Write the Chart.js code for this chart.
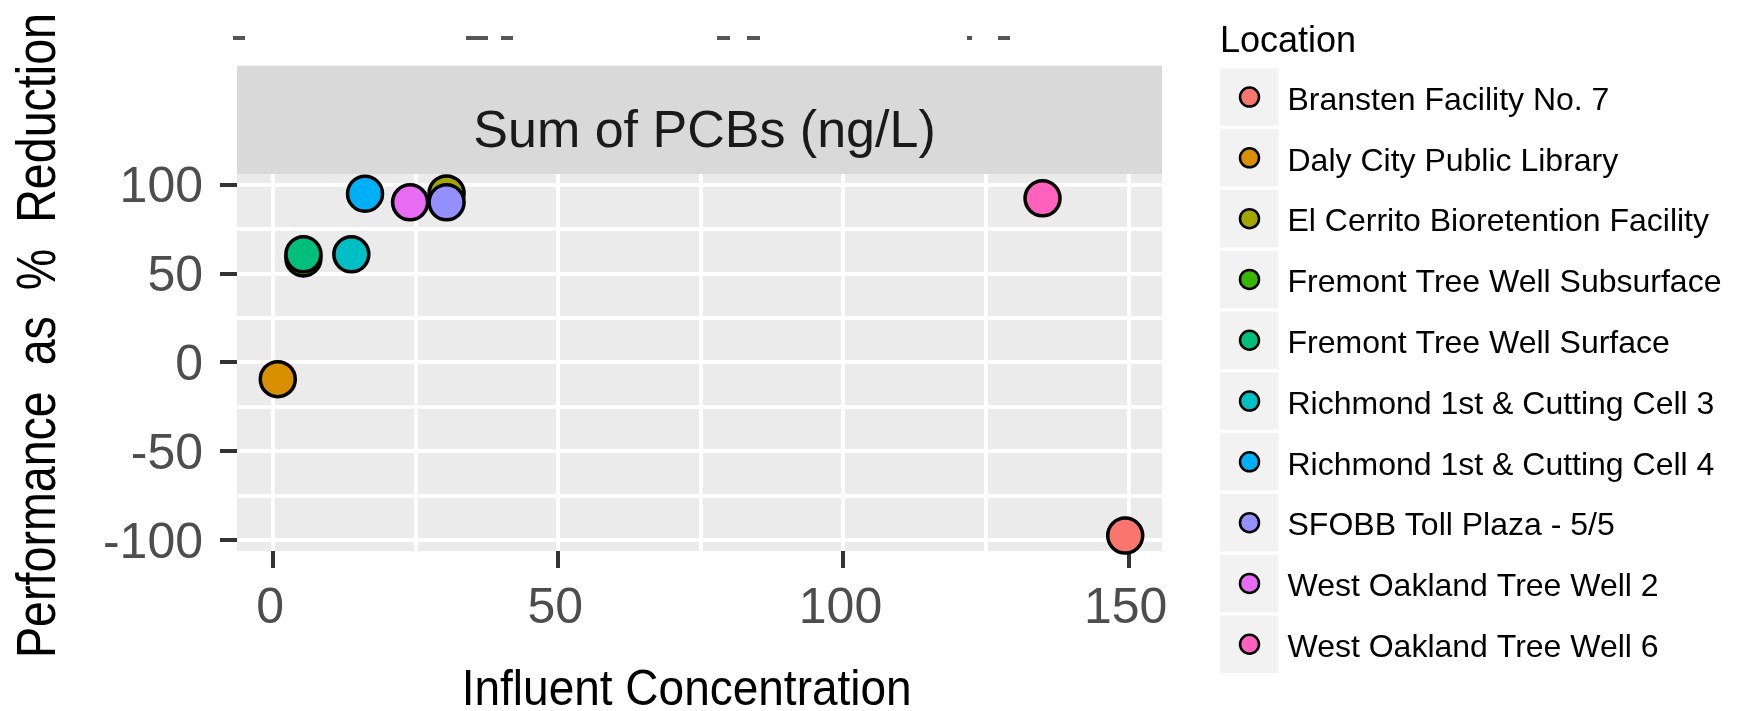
<!DOCTYPE html>
<html>
<head>
<meta charset="utf-8">
<script src="https://cdn.jsdelivr.net/npm/chart.js@4.4.1/dist/chart.umd.min.js"></script>
<style>
  html, body { margin: 0; padding: 0; background: #ffffff; }
  #wrap { width: 1746px; height: 711px; position: relative; }
</style>
</head>
<body>
<div id="wrap"><canvas id="c" width="1746" height="711"></canvas></div>
<script>
// ---------------- data ----------------
const locations = [
  'Bransten Facility No. 7',
  'Daly City Public Library',
  'El Cerrito Bioretention Facility',
  'Fremont Tree Well Subsurface',
  'Fremont Tree Well Surface',
  'Richmond 1st & Cutting Cell 3',
  'Richmond 1st & Cutting Cell 4',
  'SFOBB Toll Plaza - 5/5',
  'West Oakland Tree Well 2',
  'West Oakland Tree Well 6'
];
const colors = ['#F8766D', '#D89000', '#A3A500', '#39B600', '#00BF7D',
                '#00BFC4', '#00B0F6', '#9590FF', '#E76BF3', '#FF62BC'];
// Influent concentration (x) and performance as % reduction (y)
const influent = [149.4, 0.8, 30.4, 5.3, 5.3, 13.7, 16.1, 30.4, 24.0, 134.9];
const reduction = [-97.5, -9.5, 95.1, 58.5, 60.8, 60.8, 94.9, 90.1, 90.1, 92.3];
const xTickLabels = [0, 50, 100, 150];
const yTickLabels = [-100, -50, 0, 50, 100];
const stripLabel = 'Sum of PCBs (ng/L)';
const xTitle = 'Influent Concentration';
const yTitle = 'Performance  as  %  Reduction';
const legendTitle = 'Location';

// ---------------- styling ----------------
const FONT = '"Liberation Sans", Arial, Helvetica, sans-serif';
const TICK_COLOR = '#4D4D4D';

const datasets = locations.map((loc, i) => ({
  label: loc,
  data: [{ x: influent[i], y: reduction[i] }],
  backgroundColor: colors[i],
  borderColor: '#000000',
  borderWidth: 3.5,
  pointRadius: 17.5,
  pointHoverRadius: 17.5,
  clip: false,
  order: locations.length - i   // later locations drawn on top (like ggplot)
}));

const isMajor = (list) => (ctx) => ctx.tick && list.includes(ctx.tick.value);

// panel background + facet strip
const panelPlugin = {
  id: 'panel',
  beforeDraw(chart) {
    const { ctx, chartArea: a } = chart;
    ctx.save();
    ctx.fillStyle = '#EBEBEB';
    ctx.fillRect(a.left, a.top, a.right - a.left, a.bottom - a.top);
    // strip
    const stripTop = 65.7;
    ctx.fillStyle = '#D9D9D9';
    ctx.fillRect(a.left, stripTop, a.right - a.left, a.top - stripTop);
    ctx.fillStyle = '#1A1A1A';
    ctx.font = '52px ' + FONT;
    ctx.textAlign = 'center';
    ctx.textBaseline = 'alphabetic';
    ctx.fillText(stripLabel, (a.left + a.right) / 2 + 5, 147);
    // cropped remnants of text at the very top of the picture
    ctx.fillStyle = '#555555';
    [[233, 12], [466, 22], [501, 12], [717, 13], [747, 13], [967, 5], [998, 12]]
      .forEach(([x, w]) => ctx.fillRect(x, 36, w, 4));
    ctx.restore();
  },
  afterDraw(chart) {
    const { ctx } = chart;
    ctx.save();
    ctx.fillStyle = '#000000';
    // x axis title
    ctx.font = '50px ' + FONT;
    let w = ctx.measureText(xTitle).width;
    ctx.save();
    ctx.translate(686.7, 705);
    ctx.scale(450 / w, 1);
    ctx.textAlign = 'center';
    ctx.textBaseline = 'alphabetic';
    ctx.fillText(xTitle, 0, 0);
    ctx.restore();
    // y axis title
    ctx.font = '56px ' + FONT;
    w = ctx.measureText(yTitle).width;
    ctx.save();
    ctx.translate(55, 335.5);
    ctx.rotate(-Math.PI / 2);
    ctx.scale(645 / w, 1);
    ctx.textAlign = 'center';
    ctx.textBaseline = 'alphabetic';
    ctx.fillText(yTitle, 0, 0);
    ctx.restore();
    // legend
    ctx.font = '36px ' + FONT;
    ctx.textAlign = 'left';
    ctx.textBaseline = 'alphabetic';
    ctx.fillText(legendTitle, 1220, 52);
    ctx.font = '32px ' + FONT;
    chart.data.datasets.forEach((ds, i) => {
      const top = 68.3 + i * 60.8;
      ctx.fillStyle = '#F2F2F2';
      ctx.fillRect(1220, top, 58.5, 57.5);
      ctx.beginPath();
      ctx.arc(1249.5, top + 28.75, 9.5, 0, Math.PI * 2);
      ctx.fillStyle = ds.backgroundColor;
      ctx.fill();
      ctx.lineWidth = 2.5;
      ctx.strokeStyle = '#000000';
      ctx.stroke();
      ctx.fillStyle = '#000000';
      ctx.fillText(ds.label, 1287.5, top + 41.5);
    });
    ctx.restore();
  }
};

new Chart(document.getElementById('c'), {
  type: 'scatter',
  data: { datasets },
  options: {
    responsive: false,
    devicePixelRatio: 1,
    animation: false,
    events: [],
    layout: { padding: { left: 0, top: 174, right: 584, bottom: 0 } },
    plugins: { legend: { display: false }, tooltip: { enabled: false }, title: { display: false } },
    scales: {
      x: {
        type: 'linear',
        min: -6.35,
        max: 155.85,
        border: { display: false },
        grid: {
          color: '#FFFFFF',
          lineWidth: 4,
          drawTicks: true,
          tickLength: 17,
          tickWidth: 4,
          tickColor: (c) => isMajor(xTickLabels)(c) ? '#333333' : 'rgba(0,0,0,0)'
        },
        ticks: {
          stepSize: 25,
          autoSkip: false,
          includeBounds: false,
          maxRotation: 0,
          padding: 11,
          labelOffset: -3,
          color: TICK_COLOR,
          font: { family: FONT, size: 50 },
          callback: (v) => xTickLabels.includes(v) ? String(v) : ''
        },
        afterFit: (s) => { s.height = 160; s.paddingLeft = 0; s.paddingRight = 0; }
      },
      y: {
        type: 'linear',
        min: -106.19,
        max: 106.02,
        border: { display: false },
        grid: {
          color: '#FFFFFF',
          lineWidth: 4,
          drawTicks: true,
          tickLength: 17,
          tickWidth: 4,
          tickColor: (c) => isMajor(yTickLabels)(c) ? '#333333' : 'rgba(0,0,0,0)'
        },
        ticks: {
          stepSize: 25,
          autoSkip: false,
          includeBounds: false,
          padding: 17,
          labelOffset: 4,
          color: TICK_COLOR,
          font: { family: FONT, size: 50 },
          callback: (v) => yTickLabels.includes(v) ? String(v) : ''
        },
        afterFit: (s) => { s.width = 237; s.paddingTop = 0; s.paddingBottom = 0; }
      }
    }
  },
  plugins: [panelPlugin]
});
</script>
</body>
</html>
